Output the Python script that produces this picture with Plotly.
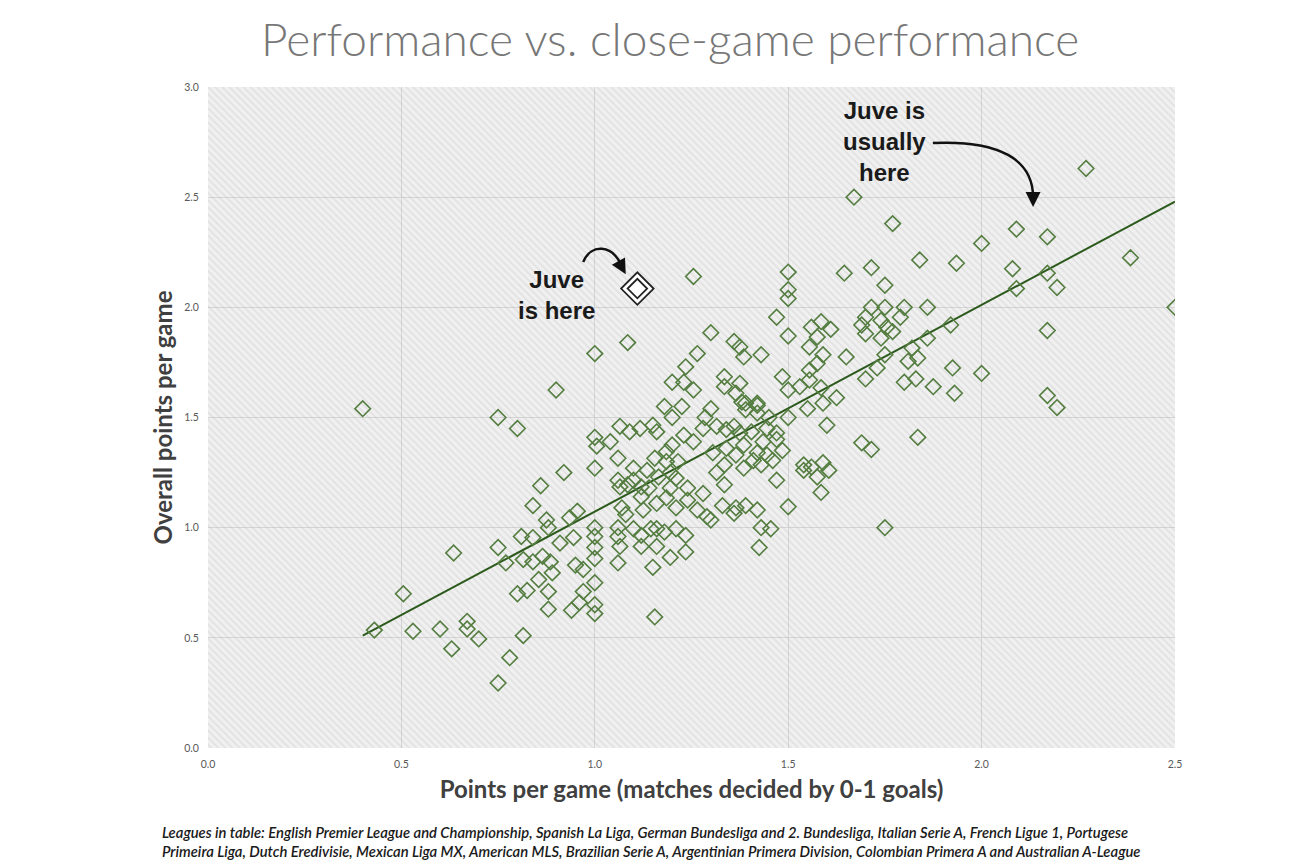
import plotly.graph_objects as go

# points per game in close matches (decided by 0-1 goals) vs overall points per game
close_ppg = [
    0.40, 0.90, 0.75, 0.80, 0.92, 0.86, 0.84, 0.875, 0.88, 0.81, 0.84, 0.935, 0.955, 0.945, 0.91,
    0.75, 0.77, 0.635, 0.815, 0.84, 0.865, 0.885, 0.89, 0.855, 0.95, 0.97, 0.80, 0.825, 0.88, 0.88,
    0.94, 0.96, 0.97, 0.505, 0.43, 0.53, 0.60, 0.67, 0.67, 0.70, 0.815, 0.63, 0.78, 0.75,
    1.18, 1.225, 1.20, 1.30, 1.285, 1.38, 1.39, 1.42, 1.42, 1.45, 1.50, 1.55,
    1.065, 1.09, 1.117, 1.15, 1.16, 1.00, 1.005, 1.04, 1.23, 1.255, 1.28, 1.315, 1.34, 1.36,
    1.375, 1.405, 1.445, 1.47, 1.20, 1.185, 1.385, 1.435, 1.47, 1.305, 1.34, 1.365, 1.42, 1.445, 1.485,
    1.06, 1.00, 1.10, 1.155, 1.185, 1.215, 1.135, 1.165, 1.195, 1.06, 1.10, 1.21, 1.315, 1.335,
    1.385, 1.41, 1.43, 1.46, 1.54, 1.56, 1.575, 1.47, 1.335, 1.065, 1.085, 1.12, 1.14, 1.195, 1.24, 1.28,
    1.07, 1.08, 1.12, 1.125, 1.16, 1.185, 1.21, 1.24, 1.265, 1.29, 1.30, 1.33, 1.36, 1.365, 1.39,
    1.42, 1.50, 1.43, 1.455, 1.425,
    1.00, 1.00, 1.06, 1.06, 1.10, 1.12, 1.145, 1.16, 1.18, 1.21, 1.235, 1.12, 1.16, 1.065, 1.00,
    1.00, 1.195, 1.235, 1.06, 1.15, 1.00, 1.00, 1.00, 1.155,
    1.255, 1.50, 1.50, 1.50, 1.47, 1.56, 1.575, 1.50, 1.555, 1.085, 1.00, 1.30, 1.36, 1.375, 1.385,
    1.43, 1.265, 1.235, 1.20, 1.23, 1.255, 1.335, 1.335, 1.375, 1.365, 1.39, 1.42, 1.485, 1.50, 1.53,
    1.555, 1.555, 1.575,
    1.75, 1.715, 1.75, 1.80, 1.86, 1.70, 1.74, 1.79, 1.69, 1.755, 1.70, 1.74, 1.77, 1.585, 1.61,
    1.92, 2.09, 2.17, 2.195, 1.59, 1.65, 1.75, 1.82, 1.835, 1.86, 1.81, 1.73, 1.70, 1.925, 2.00,
    1.80, 1.83, 1.875, 1.93, 1.585, 1.625, 1.59, 1.60, 2.17, 2.195, 1.69, 1.715, 1.835, 1.54, 1.59,
    1.605, 1.585, 1.75,
    2.27, 2.09, 2.17, 2.385, 2.08, 2.17, 2.50, 1.67, 1.77, 2.00, 1.84, 1.935, 1.645, 1.715,
]
overall_ppg = [
    1.54, 1.625, 1.50, 1.45, 1.25, 1.19, 1.10, 1.035, 1.00, 0.96, 0.955, 1.045, 1.075, 0.955, 0.93,
    0.91, 0.84, 0.885, 0.855, 0.845, 0.87, 0.845, 0.795, 0.765, 0.83, 0.81, 0.70, 0.715, 0.71, 0.63,
    0.625, 0.66, 0.71, 0.70, 0.535, 0.53, 0.54, 0.575, 0.54, 0.495, 0.51, 0.45, 0.41, 0.295,
    1.55, 1.55, 1.50, 1.54, 1.50, 1.57, 1.535, 1.555, 1.52, 1.50, 1.50, 1.54,
    1.46, 1.435, 1.45, 1.465, 1.435, 1.41, 1.37, 1.39, 1.42, 1.39, 1.45, 1.46, 1.445, 1.46,
    1.43, 1.435, 1.45, 1.43, 1.375, 1.345, 1.375, 1.39, 1.40, 1.34, 1.36, 1.33, 1.34, 1.33, 1.35,
    1.315, 1.27, 1.27, 1.315, 1.30, 1.30, 1.26, 1.23, 1.25, 1.215, 1.215, 1.225, 1.25, 1.285,
    1.27, 1.305, 1.285, 1.305, 1.285, 1.275, 1.23, 1.215, 1.195, 1.185, 1.195, 1.185, 1.18, 1.18, 1.18, 1.155,
    1.09, 1.06, 1.14, 1.08, 1.11, 1.135, 1.09, 1.125, 1.08, 1.05, 1.035, 1.10, 1.065, 1.09, 1.10,
    1.08, 1.095, 1.00, 0.995, 0.91,
    1.00, 0.96, 1.00, 0.96, 0.995, 0.965, 0.995, 0.995, 0.98, 0.995, 0.965, 0.915, 0.915, 0.915, 0.91,
    0.86, 0.865, 0.89, 0.84, 0.82, 0.75, 0.65, 0.61, 0.595,
    2.14, 2.16, 2.08, 2.04, 1.955, 1.91, 1.865, 1.87, 1.82, 1.84, 1.79, 1.885, 1.845, 1.82, 1.775,
    1.785, 1.79, 1.73, 1.66, 1.66, 1.625, 1.685, 1.64, 1.655, 1.61, 1.565, 1.565, 1.685, 1.625, 1.64,
    1.715, 1.67, 1.745,
    2.10, 2.00, 2.00, 2.00, 2.00, 1.955, 1.94, 1.955, 1.92, 1.91, 1.88, 1.86, 1.89, 1.935, 1.90,
    1.92, 2.085, 1.895, 2.09, 1.785, 1.775, 1.785, 1.815, 1.77, 1.86, 1.755, 1.725, 1.675, 1.725, 1.70,
    1.66, 1.675, 1.64, 1.61, 1.635, 1.59, 1.565, 1.465, 1.60, 1.545, 1.385, 1.355, 1.41, 1.26, 1.295,
    1.26, 1.16, 1.00,
    2.63, 2.355, 2.32, 2.225, 2.175, 2.155, 2.00, 2.50, 2.38, 2.29, 2.215, 2.20, 2.155, 2.18,
]

# Juventus this season
juve_close = [1.11]
juve_overall = [2.085]

# trend line as drawn on the chart (start / end)
trend_x = [0.40, 2.50]
trend_y = [0.51, 2.48]

x_range = [0, 2.5]
y_range = [0, 3.0]
x_ticks = [0.0, 0.5, 1.0, 1.5, 2.0, 2.5]
y_ticks = [0.0, 0.5, 1.0, 1.5, 2.0, 2.5, 3.0]

green = "#547d40"
dark_green = "#2c5a1c"

fig = go.Figure()

# hatched plot background (transparent stripes over light grey plot_bgcolor)
fig.add_trace(go.Scatter(
    x=[x_range[0], x_range[1], x_range[1], x_range[0], x_range[0]],
    y=[y_range[0], y_range[0], y_range[1], y_range[1], y_range[0]],
    mode="none", fill="toself", fillcolor="rgba(0,0,0,0)",
    fillpattern=dict(shape="\\", fgcolor="rgba(185,185,185,0.6)",
                     bgcolor="rgba(0,0,0,0)", size=5, solidity=0.3),
    hoverinfo="skip", showlegend=False,
))

fig.add_trace(go.Scatter(
    x=trend_x, y=trend_y, mode="lines",
    line=dict(color=dark_green, width=2),
    hoverinfo="skip", showlegend=False,
))

fig.add_trace(go.Scatter(
    x=close_ppg, y=overall_ppg, mode="markers",
    marker=dict(symbol="diamond-open", size=12, color=green, line=dict(width=1.6, color=green)),
    showlegend=False,
))

# Juve: double diamond
fig.add_trace(go.Scatter(
    x=juve_close, y=juve_overall, mode="markers",
    marker=dict(symbol="diamond", size=25, color="white", line=dict(width=1.8, color="#222222")),
    hoverinfo="skip", showlegend=False,
))
fig.add_trace(go.Scatter(
    x=juve_close, y=juve_overall, mode="markers",
    marker=dict(symbol="diamond-open", size=15, color="#222222", line=dict(width=1.8, color="#222222")),
    showlegend=False,
))

label_font = dict(family="Liberation Sans, Arial, sans-serif", size=24, color="#1a1a1a", weight="bold")
fig.add_annotation(x=0.90, y=2.056, text="Juve<br>is here", showarrow=False, font=label_font)
fig.add_annotation(x=1.748, y=2.751, text="Juve is<br>usually<br>here", showarrow=False, font=label_font)

# curved arrows
fig.add_shape(type="path", xref="x", yref="y", layer="above",
              path="M 0.970,2.206 C 0.990,2.290 1.045,2.285 1.068,2.192",
              line=dict(color="#111111", width=2.5))
fig.add_annotation(x=1.080, y=2.150, ax=-5, ay=-9, axref="pixel", ayref="pixel", text="",
                   showarrow=True, arrowhead=2, arrowsize=1.2, arrowwidth=2.5, arrowcolor="#111111")
fig.add_shape(type="path", xref="x", yref="y", layer="above",
              path="M 1.874,2.746 C 2.047,2.760 2.133,2.669 2.133,2.500",
              line=dict(color="#111111", width=2.5))
fig.add_annotation(x=2.133, y=2.455, ax=0, ay=-10, axref="pixel", ayref="pixel", text="",
                   showarrow=True, arrowhead=2, arrowsize=1.2, arrowwidth=2.5, arrowcolor="#111111")

fig.add_annotation(
    xref="paper", yref="paper", x=-0.05, y=-0.142, xanchor="left", yanchor="middle", align="left",
    showarrow=False,
    text=("<i>Leagues in table: English Premier League and Championship, Spanish La Liga, German Bundesliga "
          "and 2. Bundesliga, Italian Serie A, French Ligue 1, Portugese<br>Primeira Liga, Dutch Eredivisie, "
          "Mexican Liga MX, American MLS, Brazilian Serie A, Argentinian Primera Division, Colombian Primera A "
          "and Australian A-League</i>"),
    font=dict(family="Lato, sans-serif", size=14.8, color="#1a1a1a", weight=600),
)

axis_common = dict(
    showgrid=True, gridcolor="#d4d4d4", gridwidth=1.3, zeroline=False, showline=False,
    tickformat=".1f", ticks="outside", ticklen=6, tickcolor="rgba(0,0,0,0)",
    tickfont=dict(family="Lato, sans-serif", size=10.5, color="#595959"),
)

# page body adds an 8 px offset, margins compensate for it
fig.update_layout(
    width=1296, height=864,
    paper_bgcolor="white", plot_bgcolor="#f0f0f0",
    margin=dict(l=200, r=129, t=79, b=124),
    title=dict(text="Performance vs. close-game performance", x=0.478, xref="paper",
               y=0.963, yanchor="middle",
               font=dict(family="Lato, sans-serif", size=46, color="#777777", weight=300)),
    xaxis=dict(range=x_range, tickvals=x_ticks, **axis_common,
               title=dict(text="Points per game (matches decided by 0-1 goals)", standoff=12,
                          font=dict(family="Lato, sans-serif", size=24, color="#404040", weight="bold"))),
    yaxis=dict(range=y_range, tickvals=y_ticks, **axis_common,
               title=dict(text="Overall points per game", standoff=4,
                          font=dict(family="Lato, sans-serif", size=24, color="#404040", weight="bold"))),
)

fig.write_html("out.html")
